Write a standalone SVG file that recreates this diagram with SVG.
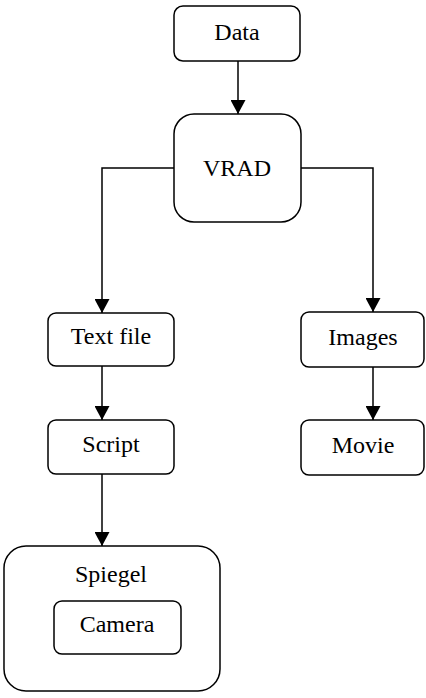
<svg xmlns="http://www.w3.org/2000/svg" width="426" height="698" viewBox="0 0 426 698">
  <style>
    .box { fill: #ffffff; stroke: #000000; stroke-width: 1.5; }
    .lbl { font-family: "Liberation Serif", "Times New Roman", serif; font-size: 24px; fill: #000000; text-anchor: middle; }
    .edge { fill: none; stroke: #000000; stroke-width: 1.5; }
  </style>
  <defs>
    <marker id="arrow" viewBox="0 0 14 15" refX="14" refY="7.5" markerWidth="14" markerHeight="15" markerUnits="userSpaceOnUse" orient="auto">
      <path d="M0,0 L14,7.5 L0,15 Z" fill="#000000"/>
    </marker>
  </defs>
  <rect width="426" height="698" fill="#ffffff"/>

  <g id="connectors">
    <path class="edge" d="M238,61 L238,114" marker-end="url(#arrow)"/>
    <path class="edge" d="M174,168 L102,168 L102,313" marker-end="url(#arrow)"/>
    <path class="edge" d="M301,168 L373,168 L373,312" marker-end="url(#arrow)"/>
    <path class="edge" d="M102,366 L102,420" marker-end="url(#arrow)"/>
    <path class="edge" d="M102,474 L102,546" marker-end="url(#arrow)"/>
    <path class="edge" d="M373,367 L373,420" marker-end="url(#arrow)"/>
  </g>

  <g id="data">
    <rect class="box" x="174" y="6" width="126" height="55" rx="9"/>
    <text class="lbl" x="237" y="40">Data</text>
  </g>
  <g id="vrad">
    <rect class="box" x="174" y="114" width="127" height="108" rx="20"/>
    <text class="lbl" x="237" y="176">VRAD</text>
  </g>
  <g id="textfile">
    <rect class="box" x="48" y="313" width="126" height="53" rx="8"/>
    <text class="lbl" x="111" y="344">Text file</text>
  </g>
  <g id="script">
    <rect class="box" x="48" y="420" width="126" height="54" rx="8"/>
    <text class="lbl" x="111" y="452">Script</text>
  </g>
  <g id="images">
    <rect class="box" x="301" y="312" width="123" height="55" rx="8"/>
    <text class="lbl" x="363" y="345">Images</text>
  </g>
  <g id="movie">
    <rect class="box" x="301" y="420" width="123" height="55" rx="8"/>
    <text class="lbl" x="363" y="453">Movie</text>
  </g>
  <g id="spiegel">
    <rect class="box" x="4" y="546" width="216" height="145" rx="22"/>
    <text class="lbl" x="111" y="582">Spiegel</text>
  </g>
  <g id="camera">
    <rect class="box" x="54" y="601" width="127" height="53" rx="8"/>
    <text class="lbl" x="117" y="632">Camera</text>
  </g>
</svg>
